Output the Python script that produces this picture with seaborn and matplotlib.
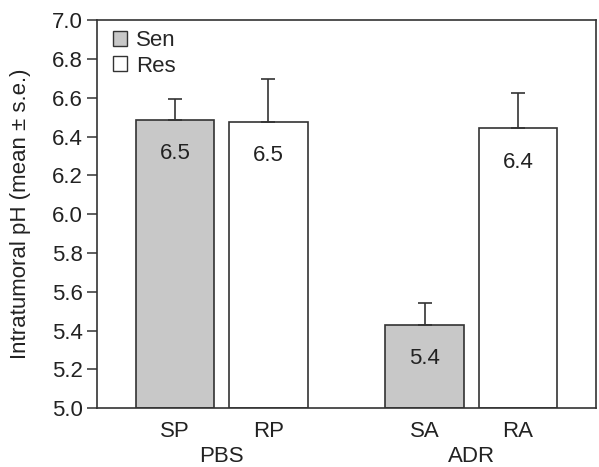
import matplotlib
matplotlib.use("Agg")
import matplotlib.pyplot as plt
import seaborn as sns
import pandas as pd

groups = ["PBS", "PBS", "ADR", "ADR"]
types = ["Sen", "Res", "Sen", "Res"]
bar_names = ["SP", "RP", "SA", "RA"]
means = [6.485, 6.476, 5.43, 6.442]
errs = [0.11, 0.22, 0.11, 0.183]
value_labels = ["6.5", "6.5", "5.4", "6.4"]
yticks = [5.0, 5.2, 5.4, 5.6, 5.8, 6.0, 6.2, 6.4, 6.6, 6.8, 7.0]

df = pd.DataFrame({"group": groups, "type": types, "pH": means,
                   "err": errs, "name": bar_names, "lab": value_labels})

sns.set_style("white")
plt.rcParams["font.family"] = ["Liberation Sans", "DejaVu Sans"]
edge = "#333333"
txt = "#222222"
fs = 16

fig = plt.figure(figsize=(5.99, 4.67), dpi=100)
ax = fig.add_axes([0.162, 0.126, 0.833, 0.831])

sns.barplot(data=df, x="group", y="pH", hue="type", order=["PBS", "ADR"],
            hue_order=["Sen", "Res"], palette={"Sen": "#c8c8c8", "Res": "#ffffff"},
            edgecolor=edge, linewidth=1.2, width=0.748, gap=0.158,
            errorbar=None, ax=ax)

centers = {}
for container, t in zip(ax.containers, ["Sen", "Res"]):
    sub = df[df["type"] == t].set_index("group").loc[["PBS", "ADR"]]
    for patch, (_, row) in zip(container.patches, sub.iterrows()):
        patch.set_y(5.0)
        patch.set_height(row["pH"] - 5.0)
        cx = patch.get_x() + patch.get_width() / 2
        top = patch.get_y() + patch.get_height()
        centers[row["name"]] = cx
        ax.errorbar([cx], [top], yerr=[[0], [row["err"]]], fmt="none",
                    ecolor=edge, elinewidth=1.2, capsize=5, capthick=1.2)
        ax.text(cx, top - 0.175, row["lab"], ha="center", va="center",
                fontsize=fs, color=txt)

ax.set_ylim(5.0, 7.0)
ax.set_xlim(-0.5, 1.5)
ax.set_yticks(yticks)
ax.set_yticklabels([f"{v:.1f}" for v in yticks], fontsize=fs, color=txt)
ax.tick_params(axis="y", direction="out", length=7, width=1.1, color=edge, pad=3, left=True)

ax.set_xticks([0, 1])
ax.set_xticklabels(["PBS", "ADR"], fontsize=fs, color=txt)
ax.tick_params(axis="x", which="major", length=0, pad=27)
ax.set_xticks([centers[n] for n in bar_names], minor=True)
ax.set_xticklabels(bar_names, minor=True, fontsize=fs, color=txt)
ax.tick_params(axis="x", which="minor", length=0, pad=9)
ax.set_xlabel("")
ax.set_ylabel("Intratumoral pH (mean ± s.e.)", fontsize=fs, color=txt)
ax.yaxis.set_label_coords(-0.132, 0.5)

for s in ax.spines.values():
    s.set_visible(True)
    s.set_color(edge)
    s.set_linewidth(1.2)

leg = ax.legend(loc="upper left", bbox_to_anchor=(0.012, 1.0), frameon=False,
                fontsize=fs, handlelength=0.65, handleheight=0.65, handletextpad=0.4,
                labelspacing=0.2, borderaxespad=0.15, borderpad=0.3, title=None)
for h in leg.legend_handles:
    h.set_edgecolor(edge)
    h.set_linewidth(1.0)

fig.savefig("out.png", dpi=100)
